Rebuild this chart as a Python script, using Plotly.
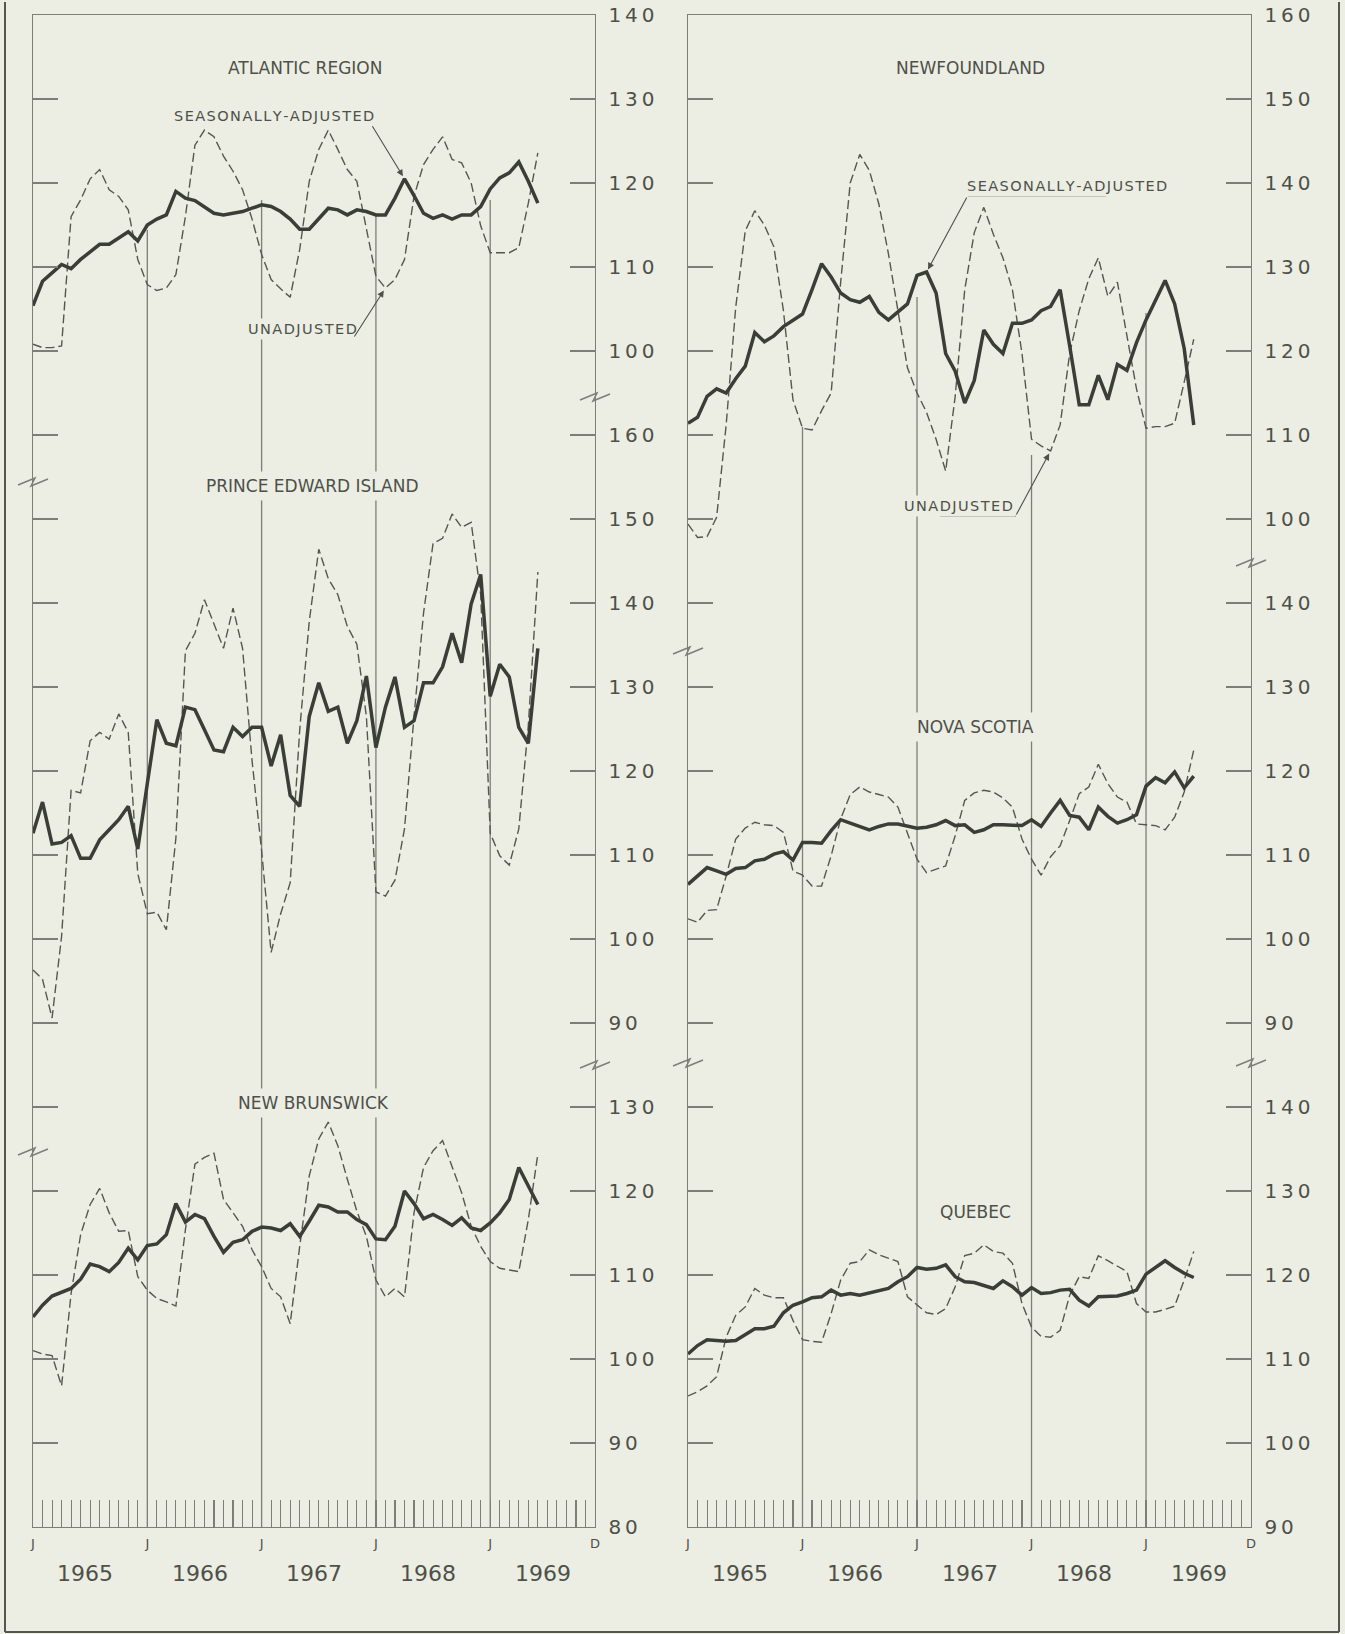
import plotly.graph_objects as go

# ---------------- data (month index 0 = Jan 1965 ... 53 = Jun 1969) ----------------
months = list(range(54))

atl_sa = [105.4, 108.3, 109.3, 110.3, 109.8, 110.9, 111.8, 112.7, 112.7, 113.5, 114.2, 113.1,
          115.0, 115.7, 116.2, 119.0, 118.2, 117.9, 117.2, 116.4, 116.2, 116.4, 116.6, 117.0,
          117.4, 117.2, 116.6, 115.7, 114.5, 114.5, 115.8, 117.0, 116.8, 116.2, 116.8, 116.6,
          116.2, 116.2, 118.2, 120.5, 118.5, 116.4, 115.8, 116.2, 115.7, 116.2, 116.2, 117.2,
          119.3, 120.6, 121.2, 122.5, 120.2, 117.6]
atl_un = [100.8, 100.4, 100.4, 100.6, 116.0, 118.0, 120.5, 121.6, 119.2, 118.4, 116.8, 110.9,
          107.9, 107.2, 107.5, 109.1, 116.0, 124.5, 126.3, 125.5, 123.2, 121.4, 119.2, 115.7,
          111.5, 108.5, 107.4, 106.4, 112.1, 120.2, 124.0, 126.3, 124.0, 121.6, 120.2, 114.5,
          108.9, 107.5, 108.5, 110.9, 118.4, 122.2, 124.0, 125.5, 122.8, 122.4, 120.0, 114.9,
          111.7, 111.7, 111.7, 112.3, 117.6, 123.6]

pei_sa = [112.6, 116.3, 111.3, 111.5, 112.3, 109.6, 109.6, 111.8, 113.0, 114.2, 115.8, 110.7,
          118.5, 126.1, 123.3, 123.0, 127.6, 127.3, 124.9, 122.5, 122.3, 125.2, 124.1, 125.2,
          125.2, 120.6, 124.3, 117.1, 115.8, 126.5, 130.5, 127.1, 127.6, 123.3, 126.0, 131.3,
          122.8, 127.6, 131.2, 125.2, 126.0, 130.5, 130.5, 132.4, 136.4, 132.9, 139.9, 143.4,
          128.9, 132.7, 131.2, 125.2, 123.3, 134.6]
pei_un = [96.3, 95.2, 90.6, 100.3, 117.7, 117.4, 123.6, 124.6, 123.8, 126.8, 124.6, 107.8,
          103.0, 103.2, 101.1, 112.0, 134.3, 136.4, 140.4, 137.5, 134.6, 139.4, 134.6, 121.2,
          110.5, 98.4, 103.0, 106.7, 124.9, 137.8, 146.4, 142.9, 141.0, 137.2, 135.1, 126.5,
          105.6, 105.1, 107.0, 113.1, 126.5, 138.8, 147.1, 147.7, 150.6, 149.0, 149.6, 141.0,
          112.6, 109.9, 108.8, 113.1, 125.4, 143.7]

nb_sa = [105.0, 106.4, 107.5, 108.0, 108.4, 109.5, 111.3, 111.0, 110.4, 111.5, 113.2, 111.8,
         113.5, 113.7, 114.8, 118.5, 116.3, 117.2, 116.7, 114.6, 112.7, 113.9, 114.2, 115.2,
         115.7, 115.6, 115.3, 116.1, 114.6, 116.4, 118.3, 118.1, 117.5, 117.5, 116.6, 116.0,
         114.3, 114.2, 115.8, 120.0, 118.5, 116.7, 117.2, 116.6, 115.9, 116.8, 115.6, 115.3,
         116.2, 117.4, 119.0, 122.8, 120.6, 118.4]
nb_un = [101.0, 100.6, 100.4, 96.8, 107.8, 114.8, 118.4, 120.3, 117.4, 115.2, 115.3, 109.8,
         108.2, 107.2, 106.8, 106.3, 115.4, 123.2, 124.0, 124.5, 119.0, 117.4, 115.8, 113.0,
         111.0, 108.4, 107.4, 104.2, 113.4, 121.8, 126.2, 128.2, 125.4, 121.4, 117.6, 114.6,
         109.4, 107.4, 108.4, 107.4, 117.4, 122.8, 124.8, 126.0, 122.8, 119.8, 115.8, 113.4,
         111.6, 110.8, 110.6, 110.4, 116.6, 124.4]

nf_sa = [111.4, 112.1, 114.6, 115.5, 115.0, 116.7, 118.2, 122.2, 121.1, 121.8, 122.9, 123.7,
         124.4, 127.3, 130.4, 128.8, 126.9, 126.1, 125.8, 126.5, 124.6, 123.7, 124.6, 125.6,
         129.0, 129.4, 126.9, 119.7, 117.6, 113.8, 116.5, 122.5, 120.8, 119.7, 123.3, 123.3,
         123.7, 124.8, 125.3, 127.3, 120.6, 113.6, 113.6, 117.1, 114.2, 118.4, 117.7, 121.0,
         123.7, 126.1, 128.4, 125.6, 120.3, 111.2]
nf_un = [99.4, 97.8, 97.9, 100.2, 111.2, 125.2, 134.3, 136.7, 135.0, 132.4, 124.8, 114.2,
         110.8, 110.6, 112.9, 115.0, 128.2, 140.0, 143.4, 141.5, 137.5, 131.6, 124.8, 118.0,
         115.0, 112.7, 109.5, 105.7, 114.6, 127.3, 134.1, 137.1, 133.9, 131.1, 127.3, 119.7,
         109.5, 108.7, 108.1, 111.2, 119.7, 124.8, 128.6, 131.1, 126.5, 128.2, 121.8, 115.5,
         110.8, 111.0, 111.0, 111.4, 116.3, 121.4]

ns_sa = [106.5, 107.5, 108.5, 108.1, 107.7, 108.4, 108.5, 109.3, 109.5, 110.1, 110.4, 109.4,
         111.5, 111.5, 111.4, 112.9, 114.2, 113.8, 113.4, 113.0, 113.4, 113.7, 113.7, 113.4,
         113.2, 113.3, 113.6, 114.1, 113.5, 113.6, 112.7, 113.0, 113.6, 113.6, 113.6, 113.5,
         114.2, 113.4, 115.0, 116.5, 114.7, 114.5, 113.0, 115.7, 114.6, 113.8, 114.2, 114.8,
         118.2, 119.2, 118.6, 119.9, 118.0, 119.4]
ns_un = [102.4, 102.0, 103.4, 103.5, 107.5, 111.9, 113.2, 113.9, 113.6, 113.5, 112.7, 108.1,
         107.6, 106.3, 106.3, 109.9, 114.3, 117.2, 118.1, 117.5, 117.2, 116.9, 115.7, 112.7,
         109.5, 107.9, 108.3, 108.7, 112.3, 116.5, 117.4, 117.7, 117.5, 116.8, 115.7, 111.9,
         109.5, 107.6, 109.8, 111.1, 114.1, 117.3, 118.1, 120.8, 118.5, 116.9, 116.3, 113.7,
         113.6, 113.5, 113.0, 114.5, 117.5, 122.5]

qc_sa = [110.6, 111.6, 112.3, 112.2, 112.1, 112.2, 112.9, 113.6, 113.6, 113.9, 115.5, 116.4,
         116.8, 117.3, 117.4, 118.2, 117.6, 117.8, 117.6, 117.9, 118.2, 118.4, 119.2, 119.8,
         120.9, 120.7, 120.8, 121.2, 119.8, 119.2, 119.1, 118.8, 118.4, 119.3, 118.6, 117.6,
         118.5, 117.8, 117.9, 118.2, 118.3, 117.0, 116.3, 117.4, 117.5, 117.5, 117.8, 118.2,
         120.1, 120.9, 121.7, 120.9, 120.2, 119.7]
qc_un = [105.6, 106.1, 106.8, 107.9, 112.6, 115.2, 116.2, 118.4, 117.6, 117.3, 117.3, 114.6,
         112.3, 112.1, 112.0, 115.4, 119.4, 121.4, 121.6, 123.0, 122.4, 122.0, 121.6, 117.4,
         116.4, 115.5, 115.3, 116.0, 118.6, 122.3, 122.6, 123.6, 122.8, 122.6, 121.4, 116.6,
         113.8, 112.7, 112.6, 113.4, 117.6, 119.8, 119.6, 122.3, 121.7, 121.1, 120.4, 116.6,
         115.6, 115.6, 115.9, 116.3, 119.4, 122.8]

x_tickvals = [0, 12, 24, 36, 48, 59]
x_ticktext = ["J", "J", "J", "J", "J", "D"]
years = ["1965", "1966", "1967", "1968", "1969"]

left_ticks = {"nb": [80, 90, 100, 110, 120, 130],
              "pei": [90, 100, 110, 120, 130, 140, 150, 160],
              "atl": [100, 110, 120, 130, 140]}
right_ticks = {"qc": [90, 100, 110, 120, 130, 140],
               "ns": [90, 100, 110, 120, 130, 140],
               "nf": [100, 110, 120, 130, 140, 150, 160]}

# ---------------- styling ----------------
W, H = 1345, 1634
BG = "#eceee3"
SOLID = "#3b3d37"
DASH = "#55574f"
AX = "#7d7f77"
TXT = "#4e504a"
FONT = "DejaVu Sans"


def PX(p):
    return p / W


def PY(p):
    return 1 - p / H


Y_TOP, Y_BOT = 15, 1527
L_X0, L_X1 = 33, 595
R_X0, R_X1 = 688, 1251
YDOM = [PY(Y_BOT), PY(Y_TOP)]


def spaced(v):
    return "\u2009".join(str(v))


def airy(s):
    return "\u200a".join(s)


fig = go.Figure()

solid_line = dict(color=SOLID, width=3.5)
dash_line = dict(color=DASH, width=1.4, dash="9px,4px")

series = [
    ("x", "y3", atl_sa, atl_un),
    ("x", "y2", pei_sa, pei_un),
    ("x", "y", nb_sa, nb_un),
    ("x2", "y6", nf_sa, nf_un),
    ("x2", "y5", ns_sa, ns_un),
    ("x2", "y4", qc_sa, qc_un),
]
for xa, ya, sa, un in series:
    fig.add_trace(go.Scatter(x=months, y=un, mode="lines", line=dash_line,
                             xaxis=xa, yaxis=ya, showlegend=False, hoverinfo="skip"))
    fig.add_trace(go.Scatter(x=months, y=sa, mode="lines", line=solid_line,
                             xaxis=xa, yaxis=ya, showlegend=False, hoverinfo="skip"))

tickfont = dict(family=FONT, size=20, color=TXT)


def yax(rng, vals, anchor, overlay=None):
    d = dict(domain=YDOM, range=rng, anchor=anchor, side="right",
             tickmode="array", tickvals=vals, ticktext=[spaced(v) for v in vals],
             ticks="inside", ticklen=25, tickwidth=1.3, tickcolor=AX,
             showline=True, linecolor=AX, linewidth=1.4, mirror="ticks",
             showgrid=False, zeroline=False, tickfont=tickfont,
             ticklabelstandoff=8, fixedrange=True, automargin=False)
    if overlay:
        d["overlaying"] = overlay
    return d


def xax(dom, anchor):
    return dict(domain=dom, range=[0, 59], anchor=anchor,
                tickmode="array", tickvals=x_tickvals, ticktext=x_ticktext,
                ticks="inside", ticklen=27, tickwidth=1.2, tickcolor=AX,
                minor=dict(tick0=0, dtick=1, ticks="inside", ticklen=27,
                           tickwidth=1.1, tickcolor=AX, showgrid=False),
                showline=True, linecolor=AX, linewidth=1.4, mirror=True,
                showgrid=False, zeroline=False,
                tickfont=dict(family=FONT, size=13, color=TXT),
                ticklabelstandoff=4, fixedrange=True, automargin=False)


fig.update_layout(
    width=W, height=H, autosize=False,
    margin=dict(l=0, r=0, t=0, b=0, pad=0, autoexpand=False),
    paper_bgcolor=BG, plot_bgcolor=BG,
    showlegend=False,
    xaxis=xax([PX(L_X0), PX(L_X1)], "y"),
    xaxis2=xax([PX(R_X0), PX(R_X1)], "y4"),
    yaxis=yax([80, 260], left_ticks["nb"], "x"),
    yaxis2=yax([30, 210], left_ticks["pei"], "x", "y"),
    yaxis3=yax([-40, 140], left_ticks["atl"], "x", "y"),
    yaxis4=yax([90, 270], right_ticks["qc"], "x2"),
    yaxis5=yax([30, 210], right_ticks["ns"], "x2", "y4"),
    yaxis6=yax([-20, 160], right_ticks["nf"], "x2", "y4"),
)

shapes = []
# January (year) division lines, with the drafted top ends
for xref, tops in (("x", [230, 200, 213, 200]), ("x2", [427, 297, 455, 313])):
    for m, top in zip([12, 24, 36, 48], tops):
        shapes.append(dict(type="line", xref=xref, yref="paper", x0=m, x1=m,
                           y0=PY(Y_BOT), y1=PY(top), line=dict(color=AX, width=1.3),
                           layer="below"))


# axis break marks (zigzags)
def zig(x, y):
    p = "M {:.5f},{:.5f} L {:.5f},{:.5f} L {:.5f},{:.5f} L {:.5f},{:.5f}".format(
        PX(x - 15), PY(y + 3), PX(x + 2), PY(y - 4), PX(x - 2), PY(y + 4), PX(x + 15), PY(y - 3))
    return dict(type="path", xref="paper", yref="paper", path=p,
                line=dict(color=AX, width=1.5))


for bx, by in [(L_X1, 397), (L_X1, 1065), (L_X0, 482), (L_X0, 1152),
               (R_X1, 563), (R_X1, 1063), (R_X0, 651), (R_X0, 1063)]:
    shapes.append(zig(bx, by))

# pointer underlines
for x0, x1, y in [(234, 371, 125), (284, 353, 338), (968, 1106, 196), (940, 1016, 516)]:
    shapes.append(dict(type="line", xref="paper", yref="paper", x0=PX(x0), x1=PX(x1),
                       y0=PY(y), y1=PY(y), line=dict(color=TXT, width=1.1)))

# outer frame
for x0, y0, x1, y1 in [(5, 2, 5, 1632), (5, 1632, 1339, 1632), (1339, 2, 1339, 1632)]:
    shapes.append(dict(type="line", xref="paper", yref="paper", x0=PX(x0), x1=PX(x1),
                       y0=PY(y0), y1=PY(y1), line=dict(color="#55574f", width=2)))

fig.update_layout(shapes=shapes)

ann = []
title_font = dict(family=FONT, size=17, color=TXT)
for text, cx, cy in [("ATLANTIC REGION", 305, 68), ("PRINCE EDWARD ISLAND", 312, 486),
                     ("NEW BRUNSWICK", 313, 1103), ("NEWFOUNDLAND", 970, 68),
                     ("NOVA SCOTIA", 975, 727), ("QUEBEC", 975, 1212)]:
    ann.append(dict(text=text, x=PX(cx), y=PY(cy), xref="paper", yref="paper",
                    xanchor="center", yanchor="middle",
                    showarrow=False, font=title_font, bgcolor=BG, borderpad=4))

small_font = dict(family=FONT, size=14.5, color=TXT)
for text, cx, cy in [("SEASONALLY-ADJUSTED", 274, 116), ("UNADJUSTED", 302, 329),
                     ("SEASONALLY-ADJUSTED", 1067, 186), ("UNADJUSTED", 958, 506)]:
    ann.append(dict(text=airy(text), x=PX(cx), y=PY(cy), xref="paper", yref="paper",
                    xanchor="center", yanchor="middle",
                    showarrow=False, font=small_font, bgcolor=BG, borderpad=2))

# pointer arrows ending on the series
for xa, ya, m, vals, ax_, ay_ in [("x", "y3", 39, atl_sa, -33, -54),
                                  ("x", "y3", 37, atl_un, -32, 50),
                                  ("x2", "y6", 25, nf_sa, 41, -76),
                                  ("x2", "y6", 38, nf_un, -35, 65)]:
    ann.append(dict(text="", x=m, y=vals[m], xref=xa, yref=ya, ax=ax_, ay=ay_,
                    showarrow=True, arrowhead=2, arrowsize=1.2, arrowwidth=1.1,
                    arrowcolor=TXT, standoff=3))

# year labels under each January-December span
for xa in ("x", "x2"):
    for i, yr in enumerate(years):
        ann.append(dict(text=yr, x=5.5 + 12 * i, y=PY(1573), xref=xa, yref="paper",
                        xanchor="center", yanchor="middle",
                        showarrow=False, font=dict(family=FONT, size=22, color=TXT)))

fig.update_layout(annotations=ann)

fig.write_html(
    "out.html",
    config={"displayModeBar": False, "staticPlot": True},
    post_script=("document.body.style.margin='0';document.body.style.padding='0';"
                 "document.body.style.overflow='hidden';"
                 "document.documentElement.style.overflow='hidden';"),
)
